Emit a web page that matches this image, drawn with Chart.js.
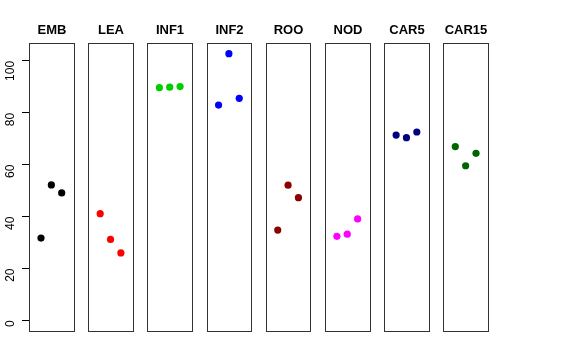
<!DOCTYPE html>
<html>
<head>
<meta charset="utf-8">
<script src="https://cdn.jsdelivr.net/npm/chart.js@4"></script>
<style>
html,body{margin:0;padding:0;background:#fff;}
#c{display:block;}
</style>
</head>
<body>
<canvas id="c" width="576" height="360"></canvas>
<script>
// ---- data ----
const categories = ['EMB','LEA','INF1','INF2','ROO','NOD','CAR5','CAR15'];
const embValues  = [31.7, 52.2, 49.1];
const leaValues  = [41.1, 31.2, 26.0];
const inf1Values = [89.7, 89.9, 90.1];
const inf2Values = [83.0, 102.8, 85.6];
const rooValues  = [34.8, 52.1, 47.3];
const nodValues  = [32.4, 33.2, 39.1];
const car5Values = [71.4, 70.4, 72.6];
const car15Values= [67.0, 59.6, 64.4];
const yTickValues = [0, 20, 40, 60, 80, 100];
const seriesColors = ['#000000','#FF0000','#00CD00','#0000FF','#8B0000','#FF00FF','#000080','#006400'];

const allValues = [embValues, leaValues, inf1Values, inf2Values, rooValues, nodValues, car5Values, car15Values];

// panel geometry in x-units (each panel: xlim 0..4 with 4% padding)
const PITCH = 5.72;
const PAD = 0.16;
const yMax = Math.max(...allValues.flat());
const yMin = 0;
const yExt = (yMax - yMin) * 0.04;

const datasets = allValues.map((vals, i) => ({
  label: categories[i],
  data: vals.map((v, j) => ({x: i * PITCH + (j + 1), y: v})),
  backgroundColor: seriesColors[i],
  borderColor: seriesColors[i],
  borderWidth: 0,
  pointRadius: 3.6,
  pointHoverRadius: 3.6,
  showLine: false
}));

const panelPlugin = {
  id: 'panels',
  afterDatasetsDraw(chart) {
    const ctx = chart.ctx;
    const xs = chart.scales.x, ys = chart.scales.y;
    const top = ys.getPixelForValue(yMax + yExt);
    const bottom = ys.getPixelForValue(yMin - yExt);
    ctx.save();
    ctx.strokeStyle = '#333';
    ctx.lineWidth = 1;
    categories.forEach((name, i) => {
      const l = Math.round(xs.getPixelForValue(i * PITCH - PAD)) + 0.5;
      const r = Math.round(xs.getPixelForValue(i * PITCH + 4 + PAD)) + 0.5;
      const t = Math.round(top) + 0.5;
      const b = Math.round(bottom) + 0.5;
      ctx.strokeRect(l, t, r - l, b - t);
      ctx.fillStyle = '#000';
      ctx.font = 'bold 13px "Liberation Sans", Arial, sans-serif';
      ctx.textAlign = 'center';
      ctx.textBaseline = 'middle';
      ctx.fillText(name, (l + r) / 2, t - 13.5);
    });
    ctx.restore();
  }
};

new Chart(document.getElementById('c'), {
  type: 'scatter',
  data: { datasets },
  options: {
    responsive: false,
    animation: false,
    devicePixelRatio: 1,
    layout: { padding: { left: 0, right: 88, top: 43, bottom: 29 } },
    plugins: { legend: { display: false }, tooltip: { enabled: false }, title: { display: false } },
    scales: {
      x: {
        type: 'linear',
        display: false,
        min: -PAD,
        max: 7 * PITCH + 4 + PAD
      },
      y: {
        type: 'linear',
        min: yMin - yExt,
        max: yMax + yExt,
        afterBuildTicks(scale) { scale.ticks = yTickValues.map(v => ({value: v})); },
        afterFit(scale) { scale.width = 29; },
        grid: { drawOnChartArea: false, drawTicks: true, tickLength: 7, color: '#000', lineWidth: 1 },
        border: { display: false },
        ticks: {
          minRotation: 90,
          maxRotation: 90,
          padding: 11,
          color: '#000',
          font: { family: '"Liberation Sans", Arial, sans-serif', size: 12 }
        }
      }
    }
  },
  plugins: [panelPlugin]
});
</script>
</body>
</html>
